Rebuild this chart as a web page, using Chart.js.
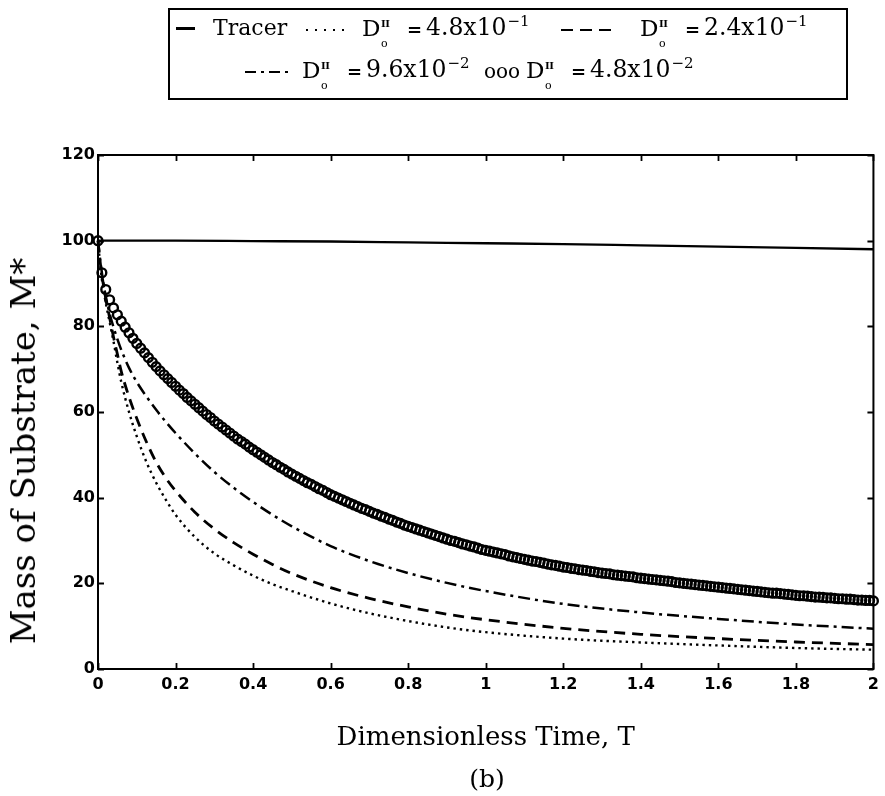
<!DOCTYPE html>
<html>
<head>
<meta charset="utf-8">
<script src="https://cdn.jsdelivr.net/npm/chart.js@4.4.0/dist/chart.umd.min.js"></script>
<style>
  html, body { margin: 0; padding: 0; background: #fff; }
  #wrap { position: relative; width: 885px; height: 796px; overflow: hidden; font-family: "DejaVu Serif", serif; color: #000; }
  #chartBox { position: absolute; left: 0; top: 0; width: 885px; height: 796px; }
  #legendBox { position: absolute; left: 168px; top: 8px; width: 676px; height: 88px; border: 2px solid #000; }
  .t { position: absolute; white-space: nowrap; }
  .smp { position: absolute; height: 2px; }
  #ytitle { position: absolute; left: 23px; top: 451px; white-space: nowrap; font-size: 34px; line-height: 34px;
            transform: translate(-50%, -50%) rotate(-90deg); }
  #caption { position: absolute; left: 487px; top: 778px; font-size: 25px; line-height: 25px; transform: translate(-50%, -50%); }
</style>
</head>
<body>
<div id="wrap">
  <div id="chartBox"><canvas id="c"></canvas></div>
  <div id="legendBox"></div>
  <div id="ytitle"></div>
  <div id="caption"></div>
</div>
<script>
// ---------------- data ----------------
const xTickValues = [0, 0.2, 0.4, 0.6, 0.8, 1, 1.2, 1.4, 1.6, 1.8, 2];
const xTickLabels = ['0', '0.2', '0.4', '0.6', '0.8', '1', '1.2', '1.4', '1.6', '1.8', '2'];
const yTickValues = [0, 20, 40, 60, 80, 100, 120];
const yTickLabels = ['0', '20', '40', '60', '80', '100', '120'];

const xTitle = 'Dimensionless Time, T';
const yTitle = 'Mass of Substrate, M*';
const caption = '(b)';

// legend texts
const legendTracer = 'Tracer';
const legendMantissas = ['4.8x10', '2.4x10', '9.6x10', '4.8x10'];
const legendExponents = ['\u22121', '\u22121', '\u22122', '\u22122'];

// Tracer (solid)
const tracerT = [0, 0.2, 0.4, 0.6, 0.8, 1.0, 1.2, 1.4, 1.6, 1.8, 2.0];
const tracerV = [100, 100, 99.9, 99.8, 99.6, 99.4, 99.2, 98.9, 98.6, 98.3, 98.0];

// shared time samples for the three line curves
const lineT = [0, 0.005, 0.01, 0.02, 0.03, 0.04, 0.05, 0.06, 0.08, 0.1, 0.125, 0.15, 0.175, 0.2, 0.25,
               0.3, 0.35, 0.4, 0.45, 0.5, 0.6, 0.7, 0.8, 0.9, 1.0, 1.2, 1.4, 1.6, 1.8, 2.0];
// D = 4.8x10^-1 (dotted)
const dottedV = [100, 95, 91, 85.5, 81, 76.5, 71.5, 67, 60, 54.3, 48.3, 43.5, 39.5, 36.0, 30.8,
                 27.0, 24.2, 21.8, 19.8, 18.2, 15.3, 13.0, 11.2, 9.7, 8.6, 7.1, 6.2, 5.5, 4.9, 4.5];
// D = 2.4x10^-1 (dashed)
const dashedV = [100, 95.5, 92, 86.5, 82, 77.5, 73.5, 69.5, 63.5, 58.5, 53, 48.3, 44.6, 41.6, 36.6,
                 32.7, 29.5, 26.8, 24.4, 22.3, 19.0, 16.5, 14.5, 12.8, 11.5, 9.5, 8.1, 7.1, 6.3, 5.7];
// D = 9.6x10^-2 (dash-dot)
const dashDotV = [100, 96, 92.5, 87, 83, 79.8, 77.0, 74.5, 70.3, 67.0, 63.6, 60.5, 57.7, 55.1, 50.3,
                  46.0, 42.3, 39.0, 36.0, 33.3, 28.7, 25.2, 22.4, 20.1, 18.2, 15.2, 13.2, 11.7, 10.4, 9.4];

// D = 4.8x10^-2 (circle markers)
const circleT = [
  0, 0.01, 0.02, 0.03, 0.04, 0.05, 0.06, 0.07, 0.08, 0.09,
  0.1, 0.11, 0.12, 0.13, 0.14, 0.15, 0.16, 0.17, 0.18, 0.19,
  0.2, 0.21, 0.22, 0.23, 0.24, 0.25, 0.26, 0.27, 0.28, 0.29,
  0.3, 0.31, 0.32, 0.33, 0.34, 0.35, 0.36, 0.37, 0.38, 0.39,
  0.4, 0.41, 0.42, 0.43, 0.44, 0.45, 0.46, 0.47, 0.48, 0.49,
  0.5, 0.51, 0.52, 0.53, 0.54, 0.55, 0.56, 0.57, 0.58, 0.59,
  0.6, 0.61, 0.62, 0.63, 0.64, 0.65, 0.66, 0.67, 0.68, 0.69,
  0.7, 0.71, 0.72, 0.73, 0.74, 0.75, 0.76, 0.77, 0.78, 0.79,
  0.8, 0.81, 0.82, 0.83, 0.84, 0.85, 0.86, 0.87, 0.88, 0.89,
  0.9, 0.91, 0.92, 0.93, 0.94, 0.95, 0.96, 0.97, 0.98, 0.99,
  1.0, 1.01, 1.02, 1.03, 1.04, 1.05, 1.06, 1.07, 1.08, 1.09,
  1.1, 1.11, 1.12, 1.13, 1.14, 1.15, 1.16, 1.17, 1.18, 1.19,
  1.2, 1.21, 1.22, 1.23, 1.24, 1.25, 1.26, 1.27, 1.28, 1.29,
  1.3, 1.31, 1.32, 1.33, 1.34, 1.35, 1.36, 1.37, 1.38, 1.39,
  1.4, 1.41, 1.42, 1.43, 1.44, 1.45, 1.46, 1.47, 1.48, 1.49,
  1.5, 1.51, 1.52, 1.53, 1.54, 1.55, 1.56, 1.57, 1.58, 1.59,
  1.6, 1.61, 1.62, 1.63, 1.64, 1.65, 1.66, 1.67, 1.68, 1.69,
  1.7, 1.71, 1.72, 1.73, 1.74, 1.75, 1.76, 1.77, 1.78, 1.79,
  1.8, 1.81, 1.82, 1.83, 1.84, 1.85, 1.86, 1.87, 1.88, 1.89,
  1.9, 1.91, 1.92, 1.93, 1.94, 1.95, 1.96, 1.97, 1.98, 1.99,
  2.0];
const circleV = [
  100, 92.5, 88.6, 86.2, 84.3, 82.7, 81.2, 79.8, 78.5, 77.2,
  76.0, 74.9, 73.8, 72.7, 71.6, 70.6, 69.6, 68.7, 67.8, 66.9,
  66.0, 65.1, 64.3, 63.4, 62.6, 61.8, 61.0, 60.2, 59.4, 58.7,
  57.9, 57.2, 56.5, 55.8, 55.1, 54.4, 53.7, 53.1, 52.5, 51.8,
  51.2, 50.6, 50.0, 49.4, 48.8, 48.2, 47.7, 47.1, 46.6, 46.0,
  45.5, 45.0, 44.5, 44.0, 43.5, 43.1, 42.6, 42.1, 41.7, 41.2,
  40.7, 40.3, 39.9, 39.5, 39.1, 38.7, 38.3, 37.9, 37.5, 37.2,
  36.8, 36.4, 36.1, 35.7, 35.4, 35.0, 34.7, 34.3, 34.0, 33.6,
  33.3, 33.0, 32.7, 32.4, 32.1, 31.8, 31.5, 31.2, 30.9, 30.6,
  30.3, 30.0, 29.8, 29.5, 29.2, 29.0, 28.7, 28.5, 28.2, 27.9,
  27.7, 27.5, 27.3, 27.1, 26.9, 26.7, 26.4, 26.2, 26.0, 25.8,
  25.6, 25.4, 25.2, 25.1, 24.9, 24.7, 24.5, 24.3, 24.2, 24.0,
  23.8, 23.7, 23.5, 23.4, 23.2, 23.1, 23.0, 22.8, 22.7, 22.5,
  22.4, 22.3, 22.2, 22.0, 21.9, 21.8, 21.7, 21.6, 21.5, 21.3,
  21.2, 21.1, 21.0, 20.9, 20.8, 20.7, 20.6, 20.5, 20.4, 20.2,
  20.1, 20.0, 19.9, 19.8, 19.7, 19.6, 19.5, 19.4, 19.3, 19.2,
  19.1, 19.0, 18.9, 18.8, 18.7, 18.6, 18.5, 18.4, 18.3, 18.2,
  18.1, 18.0, 17.9, 17.8, 17.7, 17.7, 17.6, 17.5, 17.4, 17.3,
  17.2, 17.1, 17.1, 17.0, 16.9, 16.8, 16.8, 16.7, 16.6, 16.6,
  16.5, 16.4, 16.4, 16.3, 16.3, 16.2, 16.1, 16.1, 16.0, 16.0,
  15.9];

// ---------------- helpers ----------------
const pts = (ts, vs) => ts.map((t, i) => ({ x: t, y: vs[i] }));

const frameTicks = {
  id: 'frameTicks',
  afterDraw(chart) {
    const { ctx, chartArea: { left, right, top, bottom }, scales: { x, y } } = chart;
    ctx.save();
    ctx.strokeStyle = '#000';
    ctx.lineWidth = 2;
    ctx.beginPath();
    ctx.moveTo(left - 1, top);
    ctx.lineTo(right, top);
    ctx.lineTo(right, bottom + 1);
    ctx.stroke();
    ctx.lineWidth = 1.8;
    ctx.beginPath();
    const L = 6;
    x.ticks.forEach(t => {
      const px = Math.round(x.getPixelForValue(t.value)) + 0.5;
      ctx.moveTo(px, bottom); ctx.lineTo(px, bottom - L);
      ctx.moveTo(px, top); ctx.lineTo(px, top + L);
    });
    y.ticks.forEach(t => {
      const py = Math.round(y.getPixelForValue(t.value)) + 0.5;
      ctx.moveTo(left, py); ctx.lineTo(left + L, py);
      ctx.moveTo(right, py); ctx.lineTo(right - L, py);
    });
    ctx.stroke();
    ctx.restore();
  }
};

const tickFont = { family: 'DejaVu Sans', size: 16, weight: 'bold' };

new Chart(document.getElementById('c'), {
  type: 'scatter',
  data: {
    datasets: [
      { label: 'Tracer', data: pts(tracerT, tracerV), showLine: true, borderColor: '#000', borderWidth: 2.3,
        pointRadius: 0, cubicInterpolationMode: 'monotone', clip: false },
      { label: 'D = 4.8x10^-1', data: pts(lineT, dottedV), showLine: true, borderColor: '#000', borderWidth: 2.4,
        borderDash: [2.4, 4], pointRadius: 0, cubicInterpolationMode: 'monotone', clip: false },
      { label: 'D = 2.4x10^-1', data: pts(lineT, dashedV), showLine: true, borderColor: '#000', borderWidth: 2.8,
        borderDash: [11, 7], pointRadius: 0, cubicInterpolationMode: 'monotone', clip: false },
      { label: 'D = 9.6x10^-2', data: pts(lineT, dashDotV), showLine: true, borderColor: '#000', borderWidth: 2.5,
        borderDash: [12, 5, 3, 5], pointRadius: 0, cubicInterpolationMode: 'monotone', clip: false },
      { label: 'D = 4.8x10^-2', data: pts(circleT, circleV), showLine: false, pointStyle: 'circle',
        pointRadius: 4.4, pointBorderWidth: 2.4, pointBorderColor: '#000',
        pointBackgroundColor: 'rgba(0,0,0,0)', borderColor: '#000', clip: false }
    ]
  },
  options: {
    responsive: true,
    maintainAspectRatio: false,
    animation: false,
    layout: { padding: { left: 0, top: 155, right: 7, bottom: 0 } },
    plugins: { legend: { display: false }, tooltip: { enabled: false } },
    scales: {
      x: {
        type: 'linear', position: 'bottom', min: 0, max: 2,
        afterBuildTicks: s => { s.ticks = xTickValues.map(v => ({ value: v })); },
        afterFit: s => { s.height = 127; },
        ticks: { callback: (v, i) => xTickLabels[i], font: tickFont, color: '#000', padding: 6,
                 autoSkip: false, maxRotation: 0 },
        grid: { display: false, drawTicks: false },
        border: { display: true, color: '#000', width: 2 },
        title: { display: true, text: xTitle, color: '#000',
                 font: { family: 'DejaVu Serif', size: 26 }, padding: { top: 0, bottom: 42 } }
      },
      y: {
        type: 'linear', position: 'left', min: 0, max: 120,
        afterBuildTicks: s => { s.ticks = yTickValues.map(v => ({ value: v })); },
        afterFit: s => { s.width = 98; },
        ticks: { callback: (v, i) => yTickLabels[i], font: tickFont, color: '#000', padding: 3, autoSkip: false },
        grid: { display: false, drawTicks: false },
        border: { display: true, color: '#000', width: 2 },
        title: { display: false }
      }
    }
  },
  plugins: [frameTicks]
});

// ---------------- HTML text: y title, caption, legend ----------------
document.getElementById('ytitle').textContent = yTitle;
document.getElementById('caption').textContent = caption;

const wrap = document.getElementById('wrap');
function addText(html, x, baseline, size, extra) {
  const s = document.createElement('span');
  s.className = 't';
  s.innerHTML = html;
  s.style.left = x + 'px';
  s.style.top = (baseline - 0.846 * size) + 'px';
  s.style.fontSize = size + 'px';
  s.style.lineHeight = size + 'px';
  if (extra) Object.assign(s.style, extra);
  wrap.appendChild(s);
  return s;
}
function addSample(x, y, w, bg, h) {
  const d = document.createElement('div');
  d.className = 'smp';
  d.style.left = x + 'px';
  d.style.top = (y - (h || 2) / 2) + 'px';
  d.style.width = w + 'px';
  d.style.height = (h || 2) + 'px';
  d.style.background = bg;
  wrap.appendChild(d);
}
function addDGroup(x, baseline, mant, exp) {
  addText('D', x, baseline, 23);
  addText('II', x + 19, baseline - 9, 10, { fontWeight: 'bold', letterSpacing: '-0.5px' });
  addText('o', x + 19, baseline + 11, 11);
  addText('=', x + 45, baseline, 18, { fontWeight: 'bold' });
  addText(mant + '<sup style="font-size:15px;vertical-align:9px;line-height:0;margin-left:1px">' + exp + '</sup>',
          x + 64, baseline, 23.5);
}

const b1 = 36, b2 = 78;
// row 1
addSample(176, b1 - 8, 19, '#000', 3);
addText(legendTracer, 213, b1, 22);
addSample(306, b1 - 6, 42, 'repeating-linear-gradient(to right,#000 0 2.5px,transparent 2.5px 9px)', 2.5);
addDGroup(362, b1, legendMantissas[0], legendExponents[0]);
addSample(561, b1 - 6, 50, 'repeating-linear-gradient(to right,#000 0 12px,transparent 12px 19px)', 2.5);
addDGroup(640, b1, legendMantissas[1], legendExponents[1]);
// row 2
addSample(245, b2 - 6, 43, 'repeating-linear-gradient(to right,#000 0 11px,transparent 11px 16px,#000 16px 19px,transparent 19px 24px)', 2.5);
addDGroup(302, b2, legendMantissas[2], legendExponents[2]);
addText('ooo', 484, b2, 20);
addDGroup(526, b2, legendMantissas[3], legendExponents[3]);
</script>
</body>
</html>
